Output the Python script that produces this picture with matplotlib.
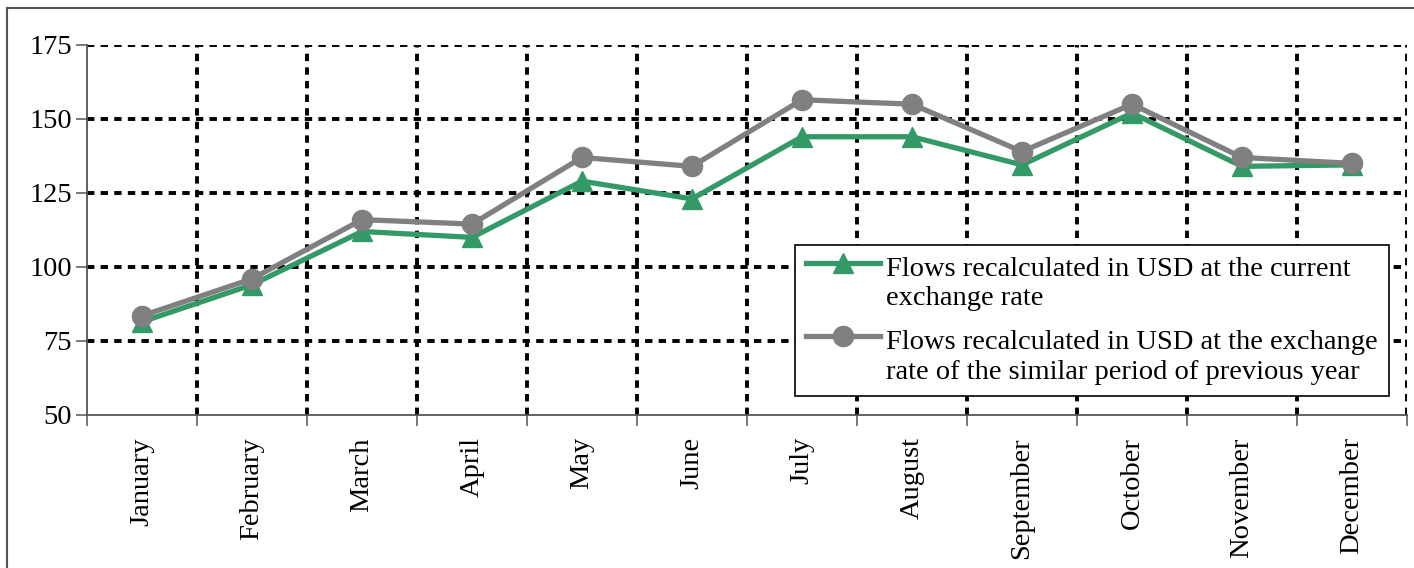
import matplotlib
matplotlib.use("Agg")
import matplotlib.pyplot as plt
from matplotlib.patches import Rectangle
from matplotlib.legend_handler import HandlerLine2D

months = ["January", "February", "March", "April", "May", "June", "July",
          "August", "September", "October", "November", "December"]
current_rate = [81.5, 94, 112, 110, 129, 123, 144, 144, 134.5, 152, 134, 134.5]
previous_rate = [83.5, 96, 116, 114.5, 137, 134, 156.5, 155, 139, 155, 137, 135]
label_current = "Flows recalculated in USD at the current\nexchange rate"
label_previous = "Flows recalculated in USD at the exchange\nrate of the similar period of previous year"
y_ticks = [50, 75, 100, 125, 150, 175]

plt.rcParams['font.family'] = ['Liberation Serif', 'DejaVu Serif']
FS = 20.5

fig = plt.figure(figsize=(14.14, 5.68), dpi=100)
W, H = 1414, 568
ax = fig.add_axes([87 / W, 1 - 415 / H, 1320 / W, 370 / H])

green = "#339966"
gray = "#808080"
x = list(range(len(months)))
ax.plot(x, current_rate, color=green, lw=3.8, marker="^", ms=14, zorder=4,
        label=label_current)
ax.plot(x, previous_rate, color=gray, lw=3.8, marker="o", ms=14.5, zorder=5,
        label=label_previous)

ax.set_xlim(-0.5, len(months) - 0.5)
ax.set_ylim(50, 175)
ax.set_yticks(y_ticks)
ax.set_yticklabels([str(v) for v in y_ticks], fontsize=FS)

bounds = [i - 0.5 for i in range(len(months) + 1)]
ax.set_xticks(bounds)
ax.set_xticklabels([""] * len(bounds))
ax.set_xticks(x, minor=True)
ax.set_xticklabels(months, minor=True, rotation=90, fontsize=FS)
ax.tick_params(axis="x", which="minor", length=0, pad=16)
ax.tick_params(axis="x", which="major", length=8, width=1.1, color="#555555")
ax.tick_params(axis="y", length=8, width=1.1, color="#555555", pad=3)

gl = dict(color="black", lw=2.8, linestyle=(0, (1.9, 1.6)))
for b in bounds[1:]:
    ax.axvline(b, **gl, zorder=1)
for v in y_ticks[1:]:
    ax.axhline(v, **gl, zorder=1)

for s in ["top", "right"]:
    ax.spines[s].set_visible(False)
for s in ["left", "bottom"]:
    ax.spines[s].set_color("#555555")
    ax.spines[s].set_linewidth(1.3)


class UpHandler(HandlerLine2D):
    def create_artists(self, legend, orig_handle, xdescent, ydescent,
                       width, height, fontsize, trans):
        arts = super().create_artists(legend, orig_handle, xdescent, ydescent,
                                      width, height, fontsize, trans)
        for a in arts:
            yd = a.get_ydata()
            a.set_ydata([y + 0.72 * fontsize for y in yd])
        return arts


leg = ax.legend(loc="upper left", bbox_to_anchor=(0.536, 0.459), fontsize=FS,
                frameon=True, fancybox=False, framealpha=1, edgecolor="black",
                handlelength=2.6, handletextpad=0.2, borderpad=0.4,
                labelspacing=0.65, borderaxespad=0,
                handler_map={plt.Line2D: UpHandler()})
leg.get_frame().set_linewidth(1.2)
leg.set_zorder(10)
for t in leg.get_texts():
    t.set_linespacing(1.25)

fig.patches.append(Rectangle((7 / W, -0.1), 1.2, 1 - 8 / H + 0.1,
                             transform=fig.transFigure, fill=False,
                             edgecolor="#555555", lw=1.5))

fig.savefig("out.png", dpi=100)
